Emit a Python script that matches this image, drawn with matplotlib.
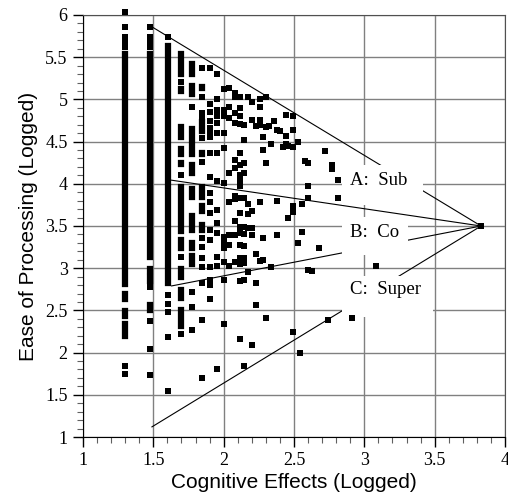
import matplotlib
matplotlib.use("Agg")
import matplotlib.pyplot as plt
from matplotlib.patches import Rectangle

plt.rcParams['font.family'] = ['Liberation Serif', 'DejaVu Serif']

# solid runs of overlapping points in the dense columns (x, lowest y, highest y)
run_x = [1.301, 1.301, 1.301, 1.301,
         1.477, 1.477, 1.477, 1.477,
         1.602,
         1.699, 1.699, 1.699, 1.699, 1.699, 1.699, 1.699, 1.699, 1.699, 1.699, 1.699,
         1.778, 1.778, 1.778, 1.778, 1.778, 1.778, 1.778, 1.778,
         1.845, 1.845, 1.845, 1.845, 1.845, 1.845]
run_lo = [2.81, 2.63, 2.43, 2.20,
          3.13, 2.97, 2.85, 2.51,
          2.83,
          5.30, 5.10, 4.87, 4.55, 4.35, 4.23, 3.44, 3.24, 2.89, 2.65, 2.32,
          5.30, 5.06, 4.35, 4.13, 3.84, 3.45, 3.24, 3.05,
          5.13, 4.63, 4.35, 3.84, 3.68, 3.45]
run_hi = [5.54, 2.69, 2.49, 2.34,
          5.54, 2.99, 2.89, 2.56,
          5.63,
          5.54, 5.12, 4.88, 4.67, 4.41, 4.25, 3.96, 3.34, 2.99, 2.74, 2.51,
          5.42, 5.16, 4.65, 4.22, 3.94, 3.62, 3.30, 3.15,
          5.15, 4.73, 4.37, 3.96, 3.74, 3.51]

# single points, column by column
col_x = [1.301, 1.477, 1.602, 1.699, 1.778, 1.845, 1.903, 1.954, 2.0, 2.041,
         2.079, 2.114, 2.146, 2.176, 2.204, 2.23, 2.255, 2.279, 2.301, 2.322,
         2.34, 2.36, 2.38, 2.40, 2.42, 2.44, 2.46, 2.49, 2.53, 2.54, 2.56,
         2.58, 2.60, 2.63, 2.68, 2.72, 2.74, 2.77, 2.81, 2.91, 3.08, 3.83]
col_y = [[6.03, 5.86, 5.74, 5.68, 5.62, 1.84, 1.75],
         [5.86, 5.74, 5.68, 5.62, 2.78, 2.37, 2.04, 1.73],
         [5.74, 2.68, 2.58, 2.48, 2.19, 1.55],
         [5.21, 4.11, 3.13, 2.22],
         [4.91, 2.72, 2.54, 2.27],
         [5.37, 5.03, 4.84, 4.78, 4.54, 4.26, 3.36, 3.25, 3.12, 3.02, 2.83, 2.39, 1.70],
         [5.37, 4.95, 4.85, 4.74, 4.66, 4.62, 4.56, 4.36, 4.08, 3.89, 3.79, 3.65,
          3.45, 3.33, 3.02, 2.86, 2.80, 2.64],
         [5.30, 5.01, 4.87, 4.80, 4.72, 4.60, 4.36, 4.03, 3.69, 3.54, 3.42, 3.13,
          3.03, 1.81],
         [5.12, 4.87, 4.83, 4.80, 4.60, 4.43, 4.01, 3.37, 3.30, 3.24, 3.07, 2.86, 2.34],
         [5.13, 4.91, 4.78, 4.13, 3.78, 3.39, 3.27, 3.03],
         [5.07, 5.03, 4.84, 4.72, 4.28, 4.19, 3.86, 3.82, 3.56, 3.39, 3.07],
         [5.03, 4.90, 4.80, 4.71, 4.36, 4.22, 4.10, 4.03, 3.97, 3.83, 3.65, 3.49,
          3.42, 3.27, 3.12, 3.05, 2.85, 2.16],
         [4.70, 4.52, 4.25, 4.13, 3.83, 3.49, 3.41, 3.26, 3.12, 3.06, 2.86, 1.84],
         [5.03, 3.76, 3.64, 3.48, 2.95],
         [4.97, 4.76, 3.68, 3.48, 3.39, 2.09],
         [4.68, 3.17, 2.83, 2.56],
         [5.00, 4.91, 4.76, 4.70, 3.78, 3.08],
         [4.56, 4.40, 3.36, 3.10],
         [5.03, 4.67, 4.25, 2.41],
         [4.68],
         [4.47, 3.02],
         [4.74],
         [4.64, 3.80, 3.39],
         [4.62],
         [4.44],
         [4.81, 4.57, 4.47],
         [4.45, 3.59],
         [4.80, 4.64, 4.44, 3.74, 3.66, 2.24],
         [4.49, 3.30],
         [1.99],
         [3.76, 3.43],
         [4.27],
         [4.25, 3.97, 3.83, 2.98],
         [2.97],
         [3.24],
         [4.39],
         [2.39],
         [4.22, 4.17],
         [4.04, 3.83],
         [2.41],
         [3.03],
         [3.50]]

# guide lines from the edge of the cloud to the far point
focus = (3.83, 3.50)
guide_start_x = [1.48, 1.60, 1.63, 1.49]
guide_start_y = [5.87, 4.05, 2.79, 1.12]

labels = ["A:  Sub", "B:  Co", "C:  Super"]

fig = plt.figure(figsize=(5.08, 5.01), dpi=100)
ax = fig.add_axes([83 / 508, 1 - 437 / 501, 422 / 508, 422 / 501])

ax.set_xlim(1, 4)
ax.set_ylim(1, 6)
ax.set_axisbelow(True)
ax.grid(True, which='major', color='#808080', linewidth=1)

for x0, y0 in zip(guide_start_x, guide_start_y):
    ax.plot([x0, focus[0]], [y0, focus[1]], color='black', lw=0.8, zorder=2)

# white label boxes cover the lines and grid
boxes = [(2.84, 3.75, 0.58, 0.47), (2.84, 3.16, 0.47, 0.45), (2.84, 2.42, 0.65, 0.49)]
text_y = [3.99, 3.37, 2.69]
for (bx, by, bw, bh), lab, ty in zip(boxes, labels, text_y):
    ax.add_patch(Rectangle((bx, by), bw, bh, facecolor='white', edgecolor='none', zorder=3))
    ax.text(2.90, ty, lab, fontsize=13.5, va='baseline', ha='left', zorder=4)

lc = ax.vlines(run_x, run_lo, run_hi, colors='black', linewidth=4.5, zorder=5)
lc.set_capstyle('projecting')
for x, ys in zip(col_x, col_y):
    ax.plot([x] * len(ys), ys, 's', color='black', markersize=4.5, markeredgewidth=0,
            zorder=5, clip_on=False)

ax.set_xticks([1, 1.5, 2, 2.5, 3, 3.5, 4])
ax.set_xticklabels(['1', '1.5', '2', '2.5', '3', '3.5', '4'])
ax.set_yticks([1, 1.5, 2, 2.5, 3, 3.5, 4, 4.5, 5, 5.5, 6])
ax.set_yticklabels(['1', '1.5', '2', '2.5', '3', '3.5', '4', '4.5', '5', '5.5', '6'])
ax.set_xticks([i / 10 for i in range(10, 41)], minor=True)
ax.set_yticks([i / 10 for i in range(10, 61)], minor=True)
ax.tick_params(which='major', direction='out', length=7, width=1, labelsize=13, pad=4)
ax.tick_params(which='minor', direction='out', length=4, width=0.8, color='#606060')
for side in ['top', 'right']:
    ax.spines[side].set_color('#505050')

ax.set_xlabel('Cognitive Effects (Logged)', family=['Liberation Sans'], fontsize=15, labelpad=3)
ax.set_ylabel('Ease of Processing (Logged)', family=['Liberation Sans'], fontsize=15, labelpad=5)

fig.savefig('out.png', dpi=100)
